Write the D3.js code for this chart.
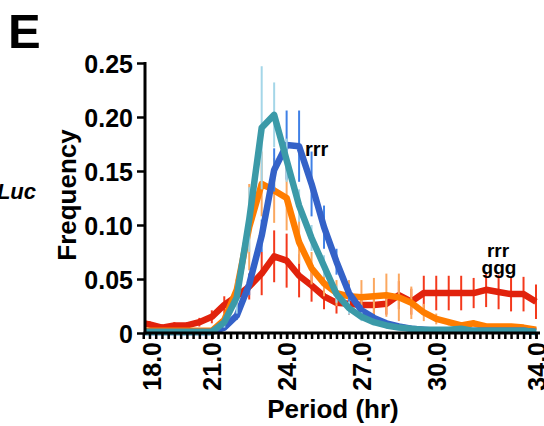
<!DOCTYPE html>
<html>
<head>
<meta charset="utf-8">
<script src="https://cdn.jsdelivr.net/npm/d3@7"></script>
<style>
  body { margin: 0; background: #fff; }
  svg text { font-family: "Liberation Sans", Arial, sans-serif; font-weight: bold; fill: #000; }
</style>
</head>
<body>
<svg id="chart" width="544" height="426"></svg>
<script>
// period bins (hr)
const periods = [18.0, 18.5, 19.0, 19.5, 20.0, 20.5, 21.0, 21.5, 22.0, 22.5, 23.0, 23.5, 24.0, 24.5, 25.0, 25.5, 26.0,
                 26.5, 27.0, 27.5, 28.0, 28.5, 29.0, 29.5, 30.0, 30.5, 31.0, 31.5, 32.0, 32.5, 33.0, 33.5, 34.0];

// frequencies, one array per group
const redVals = [0.010, 0.008, 0.005, 0.007, 0.007, 0.010, 0.015, 0.026, 0.034, 0.043, 0.055, 0.071, 0.067, 0.053, 0.044, 0.034, 0.028,
                 0.027, 0.026, 0.026, 0.027, 0.035, 0.029, 0.037, 0.037, 0.037, 0.037, 0.037, 0.040, 0.038, 0.036, 0.036, 0.029];
const redErr  = [0.003, 0.003, 0.003, 0.003, 0.003, 0.004, 0.006, 0.008, 0.010, 0.012, 0.020, 0.024, 0.025, 0.020, 0.015, 0.012, 0.010,
                 0.010, 0.010, 0.010, 0.010, 0.013, 0.012, 0.016, 0.016, 0.016, 0.016, 0.014, 0.016, 0.016, 0.016, 0.016, 0.016];

const orangeVals = [0.002, 0.002, 0.002, 0.002, 0.002, 0.002, 0.002, 0.012, 0.040, 0.098, 0.138, 0.132, 0.125, 0.084, 0.060, 0.046, 0.037,
                    0.034, 0.033, 0.034, 0.035, 0.033, 0.028, 0.019, 0.013, 0.010, 0.007, 0.009, 0.006, 0.006, 0.006, 0.005, 0.003];
const orangeErr  = [0, 0, 0, 0, 0, 0, 0.001, 0.004, 0.010, 0.040, 0.030, 0.030, 0.030, 0.020, 0.015, 0.012, 0.012,
                    0.015, 0.016, 0.017, 0.020, 0.022, 0.015, 0.008, 0.005, 0.003, 0.003, 0.003, 0.002, 0.002, 0.002, 0.002, 0.002];

const blueVals = [0.001, 0.001, 0.001, 0.001, 0.001, 0.001, 0.001, 0.005, 0.016, 0.045, 0.090, 0.151, 0.174, 0.173, 0.138, 0.098, 0.066,
                  0.037, 0.021, 0.014, 0.009, 0.006, 0.004, 0.003, 0.002, 0.002, 0.002, 0.002, 0.002, 0.002, 0.002, 0.002, 0.001];
const blueErr  = [0, 0, 0, 0, 0, 0, 0, 0.002, 0.004, 0.010, 0.015, 0.020, 0.032, 0.033, 0.030, 0.020, 0.012,
                  0.008, 0.005, 0.003, 0.002, 0.002, 0.001, 0.001, 0.001, 0.001, 0.001, 0.001, 0.001, 0.001, 0.001, 0.001, 0.001];

const tealVals = [0.001, 0.001, 0.001, 0.001, 0.001, 0.001, 0.001, 0.010, 0.033, 0.105, 0.190, 0.202, 0.160, 0.118, 0.088, 0.062, 0.036,
                  0.023, 0.015, 0.010, 0.007, 0.005, 0.004, 0.003, 0.003, 0.003, 0.004, 0.002, 0.002, 0.002, 0.002, 0.002, 0.001];
const tealErr  = [0, 0, 0, 0, 0, 0, 0, 0.005, 0.015, 0.030, 0.057, 0.030, 0.020, 0.015, 0.012, 0.010, 0.008,
                  0.006, 0.004, 0.003, 0.002, 0.002, 0.002, 0.002, 0.002, 0.002, 0.002, 0.002, 0.002, 0.002, 0.002, 0.002, 0.002];

const yTicks = [0, 0.05, 0.10, 0.15, 0.20, 0.25];
const xLabelTicks = [18, 21, 24, 27, 30, 34];

// drawing order: red below, teal on top
const series = [
    { name: 'red', vals: redVals, err: redErr, line: '#e1220c', bar: '#f4391c' },
    { name: 'orange', vals: orangeVals, err: orangeErr, line: '#ff7d00', bar: '#fba860' },
    { name: 'blue', vals: blueVals, err: blueErr, line: '#3462c8', bar: '#3f80e6' },
    { name: 'teal', vals: tealVals, err: tealErr, line: '#3b9aa8', bar: '#a4d6e8' }
];

const svg = d3.select('#chart');
const axisX0 = 145, axisX1 = 540, axisY = 333;

const x = d3.scaleLinear().domain([18, 34]).range([137, 536]);
const y = d3.scaleLinear().domain([0, 0.25]).range([axisY, 63]);

// clip so the data stops at the y axis
svg.append('defs').append('clipPath').attr('id', 'plot-clip')
    .append('rect').attr('x', axisX0).attr('y', 0).attr('width', 544 - axisX0).attr('height', 345);

const plot = svg.append('g').attr('clip-path', 'url(#plot-clip)');

const line = d3.line()
    .x((d, i) => x(periods[i]))
    .y(d => y(d))
    .curve(d3.curveLinear);

series.forEach(s => {
    let g = plot.append('g').attr('class', 'series ' + s.name);
    // error bars
    g.selectAll('line.err').data(s.vals).enter().append('line')
        .attr('class', 'err')
        .attr('x1', (d, i) => x(periods[i]))
        .attr('x2', (d, i) => x(periods[i]))
        .attr('y1', (d, i) => y(d + s.err[i]))
        .attr('y2', (d, i) => y(Math.max(0, d - s.err[i])))
        .attr('stroke', s.bar)
        .attr('stroke-width', 2);
    g.append('path').datum(s.vals)
        .attr('d', line)
        .attr('fill', 'none')
        .attr('stroke', s.line)
        .attr('stroke-width', 6.5)
        .attr('stroke-linejoin', 'round');
});

// y axis
const yAxis = d3.axisLeft(y).tickValues(yTicks).tickSize(8).tickPadding(4)
    .tickFormat(d => d === 0 ? '0' : d3.format('.2f')(d));
const gy = svg.append('g').attr('transform', 'translate(' + axisX0 + ',0)').call(yAxis);
gy.select('.domain').remove();
gy.selectAll('.tick line').attr('stroke', '#000').attr('stroke-width', 2.5);
gy.selectAll('.tick text').style('font-size', '25px').attr('dy', '0.36em');
gy.append('line').attr('x1', 0).attr('x2', 0).attr('y1', y(0.25) - 1).attr('y2', axisY + 1.5)
    .attr('stroke', '#000').attr('stroke-width', 3);

// x axis: minor ticks every 0.25 hr
const minorTicks = [];
for (let i = 1; i <= 64; i++) minorTicks.push(18 + i * 0.25);
const gxMinor = svg.append('g').attr('transform', 'translate(0,' + axisY + ')')
    .call(d3.axisBottom(x).tickValues(minorTicks).tickSize(6).tickFormat(''));
gxMinor.select('.domain').remove();
gxMinor.selectAll('.tick line').attr('stroke', '#000').attr('stroke-width', 2.5);

const gx = svg.append('g').attr('transform', 'translate(0,' + axisY + ')')
    .call(d3.axisBottom(x).tickValues(xLabelTicks).tickSize(6).tickFormat(d3.format('.1f')));
gx.select('.domain').remove();
gx.selectAll('.tick line').attr('stroke', '#000').attr('stroke-width', 2.5);
gx.selectAll('.tick text')
    .style('font-size', '25px')
    .attr('text-anchor', 'end')
    .attr('transform', 'rotate(-90)')
    .attr('x', -9).attr('y', 0).attr('dy', '0.36em');
// first label sits at the start of the axis
gx.selectAll('.tick').filter(d => d === 18).attr('transform', 'translate(152,0)')
    .select('line').remove();

svg.append('line').attr('x1', axisX0 - 1.5).attr('x2', axisX1).attr('y1', axisY).attr('y2', axisY)
    .attr('stroke', '#000').attr('stroke-width', 3);

// titles
svg.append('text').attr('x', 333).attr('y', 418).attr('text-anchor', 'middle')
    .style('font-size', '26px').text('Period (hr)');
svg.append('text').attr('transform', 'translate(76,195) rotate(-90)').attr('text-anchor', 'middle')
    .style('font-size', '26px').text('Frequency');

// panel letter and side label
svg.append('text').attr('x', 8).attr('y', 48).style('font-size', '49px').text('E');
svg.append('text').attr('x', 36).attr('y', 199).attr('text-anchor', 'end')
    .style('font-size', '22px').style('font-style', 'italic').text('Luc');

// significance marks
svg.append('text').attr('x', 305).attr('y', 156).style('font-size', '20px').text('rrr');
svg.append('text').attr('x', 498).attr('y', 257).attr('text-anchor', 'middle').style('font-size', '19px').text('rrr');
svg.append('text').attr('x', 499).attr('y', 274).attr('text-anchor', 'middle').style('font-size', '19px').text('ggg');
</script>
</body>
</html>
